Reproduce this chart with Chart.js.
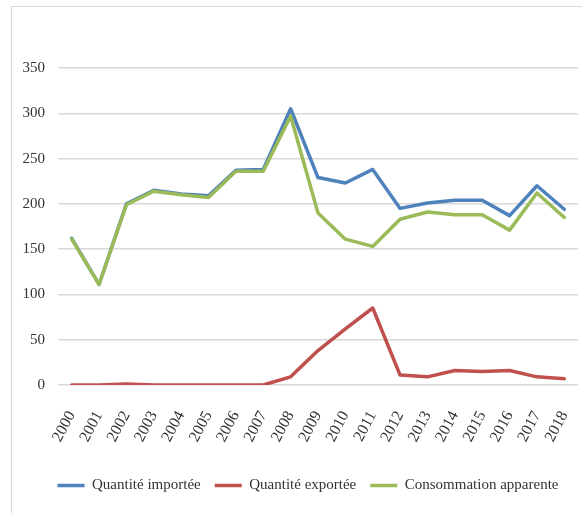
<!DOCTYPE html>
<html>
<head>
<meta charset="utf-8">
<script src="https://cdn.jsdelivr.net/npm/chart.js@4/dist/chart.umd.min.js"></script>
<style>
  html, body { margin: 0; padding: 0; background: #ffffff; }
  #wrap { position: relative; width: 582px; height: 513px; overflow: hidden; }
  #frame { position: absolute; left: 11px; top: 6px; width: 700px; height: 700px;
           border-left: 1px solid #d9d9d9; border-top: 1px solid #d9d9d9; }
  canvas { position: absolute; left: 0; top: 0; }
</style>
</head>
<body>
<div id="wrap">
  <div id="frame"></div>
  <canvas id="c" width="582" height="513"></canvas>
</div>
<script>
const years = ['2000','2001','2002','2003','2004','2005','2006','2007','2008','2009',
               '2010','2011','2012','2013','2014','2015','2016','2017','2018'];
const quantiteImportee = [162, 111, 200, 215, 211, 209, 237, 238, 305, 229,
                          223, 238, 195, 201, 204, 204, 187, 220, 194];
const quantiteExportee = [0, 0, 1, 0, 0, 0, 0, 0, 9, 38,
                          62, 85, 11, 9, 16, 15, 16, 9, 7];
const consommationApparente = [161, 111, 199, 214, 210, 207, 236, 236, 297, 190,
                               161, 153, 183, 191, 188, 188, 171, 212, 185];
const yTicks = [0, 50, 100, 150, 200, 250, 300, 350];

const serif = 'Liberation Serif, "Times New Roman", serif';

function series(label, data, color, order) {
  return {
    label, data, order,
    borderColor: color, backgroundColor: color,
    borderWidth: 3.5,
    pointBorderColor: color, pointBackgroundColor: color,
    pointBorderWidth: 3.5, pointRadius: 0, pointHoverRadius: 0
  };
}

// shift the legend box slightly to the right, as in the reference
const legendShift = {
  id: 'legendShift',
  afterLayout(chart) {
    const lg = chart.legend;
    if (lg) { lg.left += 19; lg.right += 19; }
  }
};

new Chart(document.getElementById('c'), {
  type: 'line',
  data: {
    labels: years,
    datasets: [
      series('Quantité importée', quantiteImportee, '#4F81BD', 2),
      series('Quantité exportée', quantiteExportee, '#C0504D', 1),
      series('Consommation apparente', consommationApparente, '#9BBB59', 0)
    ]
  },
  plugins: [legendShift],
  options: {
    responsive: false,
    animation: false,
    devicePixelRatio: 1,
    elements: {
      line: { tension: 0, borderCapStyle: 'round', borderJoinStyle: 'round' }
    },
    layout: { padding: { left: 0, top: 68, right: 4, bottom: 10 } },
    scales: {
      x: {
        type: 'category',
        offset: true,
        afterFit: (s) => { s.height = 79; s.paddingLeft = 0; s.paddingRight = 0; },
        grid: { display: false },
        border: { display: false },
        ticks: {
          color: '#333333',
          font: { family: serif, size: 16 },
          minRotation: 62, maxRotation: 62,
          padding: 15,
          autoSkip: false
        }
      },
      y: {
        min: 0, max: 350,
        afterFit: (s) => { s.width = 58; },
        afterBuildTicks: (s) => { s.ticks = yTicks.map(v => ({ value: v })); },
        grid: { color: '#d9d9d9', lineWidth: 1.5, drawTicks: false },
        border: { display: false },
        ticks: {
          color: '#333333',
          font: { family: serif, size: 15 },
          padding: 13
        }
      }
    },
    plugins: {
      legend: {
        position: 'bottom',
        labels: {
          color: '#333333',
          font: { family: serif, size: 15 },
          usePointStyle: true,
          pointStyle: 'line',
          pointStyleWidth: 27,
          padding: 14,
          sort: (a, b) => a.datasetIndex - b.datasetIndex
        }
      },
      tooltip: { enabled: false }
    }
  }
});
</script>
</body>
</html>
